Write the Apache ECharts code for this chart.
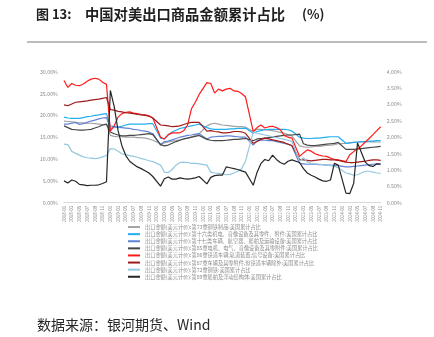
<!DOCTYPE html>
<html>
<head>
<meta charset="utf-8">
<script src="https://cdn.jsdelivr.net/npm/echarts@6/dist/echarts.min.js"></script>
<style>
html,body{margin:0;padding:0;background:#fff;}
#c{width:434px;height:337px;}
</style>
</head>
<body>
<div id="c"></div>
<script>
const months = [
'2018-01','2018-02','2018-03','2018-04','2018-05','2018-06','2018-07','2018-08','2018-09','2018-10','2018-11','2018-12',
'2019-01','2019-02','2019-03','2019-04','2019-05','2019-06','2019-07','2019-08','2019-09','2019-10','2019-11','2019-12',
'2020-01','2020-02','2020-03','2020-04','2020-05','2020-06','2020-07','2020-08','2020-09','2020-10','2020-11','2020-12',
'2021-01','2021-02','2021-03','2021-04','2021-05','2021-06','2021-07','2021-08','2021-09','2021-10','2021-11','2021-12',
'2022-01','2022-02','2022-03','2022-04','2022-05','2022-06','2022-07','2022-08','2022-09','2022-10','2022-11','2022-12',
'2023-01','2023-02','2023-03','2023-04','2023-05','2023-06','2023-07','2023-08','2023-09','2023-10','2023-11','2023-12',
'2024-01','2024-02','2024-03','2024-04','2024-05','2024-06','2024-07','2024-08','2024-09','2024-10','2024-11'
];

const seriesNames = [
'出口金额(美元计价):第73章钢铁制品:美国累计占比',
'出口金额(美元计价):第十六类机电、音像设备及其零件、附件:美国累计占比',
'出口金额(美元计价):第十七类车辆、航空器、船舶及运输设备:美国累计占比',
'出口金额(美元计价):第85章电机、电气、音像设备及其零附件:美国累计占比',
'出口金额(美元计价):第86章铁道车辆;轨道装置;信号设备:美国累计占比',
'出口金额(美元计价):第87章车辆及其零附件,但铁道车辆除外:美国累计占比',
'出口金额(美元计价):第72章钢铁:美国累计占比',
'出口金额(美元计价):第89章船舶及浮动结构体:美国累计占比'
];

const ch73 = [18.7,18.6,18.5,18.4,18.3,18.3,18.2,18.2,18.1,18.0,17.9,17.9,
15.4,15.2,15.1,15.1,15.0,15.0,15.0,14.9,14.9,14.8,14.6,14.3,
null,13.5,13.7,13.9,14.1,14.2,14.4,14.6,14.8,15.0,15.4,15.8,
null,17.6,18.0,18.2,18.0,17.8,17.7,17.6,17.5,17.4,17.4,17.3,
null,16.3,16.8,16.8,16.7,16.6,16.5,16.3,16.1,15.9,15.6,15.3,
null,13.0,12.8,12.7,12.8,12.9,12.9,13.0,13.1,13.2,13.3,13.5,
null,13.6,13.7,13.8,13.8,13.9,13.9,13.9,14.0,13.9,13.9];

const ch16 = [19.6,19.4,19.3,19.3,19.3,19.5,19.7,19.8,20.0,20.1,20.3,20.4,
17.6,17.5,17.3,17.5,17.8,18.0,18.0,18.0,18.0,18.0,18.1,18.1,
null,14.8,14.6,15.5,16.2,16.6,17.0,17.2,17.4,17.6,17.8,18.0,
null,17.2,16.9,16.8,16.8,16.8,16.8,16.9,16.9,17.0,17.0,17.1,
null,15.9,16.3,16.5,16.7,16.8,16.8,16.8,16.8,16.8,16.7,16.4,
null,15.0,14.8,14.7,14.7,14.8,14.8,14.9,15.0,15.1,15.1,15.1,
null,13.6,13.7,13.8,13.9,14.0,14.0,14.1,14.1,14.2,14.2];

const ch17 = [18.0,18.0,18.2,18.4,17.9,18.1,18.4,18.7,18.9,19.2,19.4,19.5,
17.0,17.3,17.3,17.2,17.1,17.0,16.8,16.7,16.5,16.4,16.2,15.8,
null,13.2,14.0,14.1,14.4,14.7,15.0,15.2,15.4,15.5,15.7,15.8,
null,14.6,15.0,15.1,15.2,15.2,15.3,15.3,15.2,15.1,15.0,15.0,
null,13.2,14.2,14.4,14.3,14.2,14.2,14.0,13.8,13.6,13.4,13.0,
null,9.0,8.9,8.8,8.8,8.8,8.7,8.7,8.6,8.6,8.5,8.5,
null,8.2,8.2,8.3,8.4,8.5,8.6,8.7,8.8,8.9,8.9];

const ch85 = [17.6,17.2,16.8,16.7,16.6,16.6,16.7,16.8,17.1,17.4,17.8,18.0,
16.2,15.8,15.5,15.3,15.3,15.4,15.4,15.5,15.6,15.7,15.8,15.6,
null,13.3,13.0,13.2,13.6,14.0,14.3,14.6,14.8,15.0,15.2,15.4,
null,14.5,14.3,14.2,14.2,14.2,14.3,14.4,14.5,14.5,14.6,14.7,
null,14.2,14.6,14.7,14.8,14.9,15.0,15.2,15.3,15.4,15.5,15.5,
null,15.7,13.5,13.2,13.1,13.1,13.2,13.3,13.4,13.5,13.6,13.8,
null,12.2,12.2,12.2,12.3,12.4,12.5,12.6,12.7,12.8,12.9];

const ch86 = [28.0,26.4,27.3,26.9,26.8,27.2,27.8,28.3,28.5,28.3,27.6,27.1,
16.4,17.6,19.6,20.4,20.7,20.8,20.5,20.4,20.2,20.1,19.9,19.4,
null,15.0,14.6,15.6,16.0,16.0,16.0,16.5,17.8,21.5,23.0,24.8,
null,27.5,27.3,25.1,26.0,25.6,26.0,26.2,25.6,25.5,25.0,24.2,
null,16.3,17.2,17.8,17.1,17.4,17.5,17.2,16.7,15.4,15.0,14.8,
null,10.6,11.4,12.1,11.8,11.2,10.9,10.7,10.6,10.2,9.9,9.8,
null,9.4,11.0,11.7,12.3,13.0,13.9,14.7,15.6,16.5,17.4];

const ch87 = [22.4,22.2,22.6,23.0,23.1,23.2,23.3,23.5,23.6,23.7,23.9,24.1,
21.3,21.2,20.9,20.8,20.6,20.5,20.4,20.2,20.1,20.0,19.8,19.4,
null,17.8,17.7,17.6,17.4,17.5,17.6,17.9,18.2,18.4,18.4,18.4,
null,16.4,16.5,16.3,16.2,16.0,16.0,16.1,16.3,16.3,16.2,15.9,
null,13.6,14.0,14.5,14.8,14.6,14.4,14.2,14.0,13.8,13.4,13.1,
null,9.9,9.8,9.7,9.6,9.7,9.8,9.9,9.9,9.8,9.8,9.7,
null,9.3,9.2,9.2,9.3,9.4,9.5,9.7,9.8,9.8,9.7];

const ch72 = [13.4,13.3,11.8,11.3,10.9,10.5,10.3,10.2,10.1,10.2,10.5,10.8,
12.4,12.3,11.8,11.2,11.0,10.8,10.6,10.4,10.1,9.9,9.6,9.4,
null,8.6,7.0,6.9,7.6,8.6,9.2,9.3,9.2,9.0,9.0,8.9,
null,8.6,7.0,6.8,6.7,6.6,6.4,6.5,6.8,7.2,7.8,9.5,
null,16.2,15.9,15.7,15.5,15.3,15.1,14.9,14.7,14.5,14.3,14.0,
null,9.5,10.3,9.3,9.0,8.9,8.8,8.7,8.6,8.5,8.3,8.0,
null,6.8,6.6,6.3,6.4,6.8,7.2,7.2,7.0,6.8,6.7];

const ch89 = [5.0,4.5,5.2,4.9,4.2,4.1,3.9,4.0,4.0,4.1,4.4,4.8,
25.7,22.0,16.5,13.0,10.8,9.5,8.8,8.2,7.8,7.3,6.8,6.0,
null,3.8,5.5,5.9,5.4,5.4,5.7,5.5,5.4,5.5,5.7,6.0,
null,4.3,5.8,6.2,6.3,6.3,8.2,8.0,7.8,7.6,7.3,7.0,
null,4.0,7.0,9.0,9.9,9.6,10.9,9.9,9.2,8.8,9.5,9.8,
null,9.2,7.8,6.8,6.3,5.9,5.4,5.0,4.9,5.2,9.0,8.6,
null,2.2,2.1,4.4,13.7,11.5,9.3,8.5,8.3,8.9,8.8];

const leftTicks = {min:0, max:30, interval:5};
const rightTicks = {min:0, max:4, interval:0.5};

const seriesData = [ch73, ch16, ch17, ch85, ch86, ch87, ch72, ch89];
const colors = ['#a3a3a3','#22aef0','#6283d4','#474747','#ff1a1a','#a11a1a','#93c8e0','#262626'];

const chart = echarts.init(document.getElementById('c'), null, {renderer:'canvas'});
const fam = '"Noto Sans CJK SC","Noto Sans",sans-serif';

chart.setOption({
  animation:false,
  backgroundColor:'#fff',
  grid:{left:64, right:53.3, top:71.7, bottom:134.3, containLabel:false},
  xAxis:{
    type:'category', data:months, boundaryGap:false,
    axisLine:{show:true, lineStyle:{color:'#d9d9d9', width:1}},
    axisTick:{show:false},
    axisLabel:{interval:1, rotate:90, fontSize:4.5, color:'#8c8c8c', margin:3, fontFamily:fam},
    splitLine:{show:false}
  },
  yAxis:[
    {type:'value', min:leftTicks.min, max:leftTicks.max, interval:leftTicks.interval,
     axisLine:{show:false}, axisTick:{show:false}, splitLine:{show:false},
     axisLabel:{formatter:v=>v.toFixed(2)+'%', fontSize:5.3, color:'#8c8c8c', margin:6, fontFamily:fam}},
    {type:'value', position:'right', min:rightTicks.min, max:rightTicks.max, interval:rightTicks.interval,
     alignTicks:false,
     axisLine:{show:false}, axisTick:{show:false}, splitLine:{show:false},
     axisLabel:{formatter:v=>v.toFixed(2)+'%', fontSize:5.3, color:'#8c8c8c', margin:6, fontFamily:fam}}
  ],
  legend:{
    orient:'vertical', left:128, top:223.5, padding:0,
    itemWidth:12, itemHeight:2, itemGap:0, icon:'rect',
    textStyle:{fontSize:5.2, color:'#8c8c8c', lineHeight:7.1, fontFamily:fam},
    data:seriesNames
  },
  series: seriesNames.map((n,k)=>({
    name:n, type:'line', yAxisIndex:0, data:seriesData[k],
    showSymbol:false, symbol:'none', connectNulls:true,
    color:colors[k], lineStyle:{width:1.2, color:colors[k]}
  })),
  graphic:[
    {type:'text', left:36, top:8, style:{text:'图 13:', font:'bold 13px '+fam, fill:'#1f1f1f'}},
    {type:'text', left:85, top:7.5, style:{text:'中国对美出口商品金额累计占比', font:'bold 14.3px '+fam, fill:'#1f1f1f'}},
    {type:'text', left:302, top:8, style:{text:'(%)', font:'bold 13px '+fam, fill:'#1f1f1f'}},
    {type:'line', shape:{x1:27, y1:42, x2:427, y2:42}, style:{stroke:'#a6a6a6', lineWidth:1.5}},
    {type:'text', left:37, top:318, style:{text:'数据来源：银河期货、Wind', font:'14px '+fam, fill:'#262626'}}
  ]
});
</script>
</body>
</html>
